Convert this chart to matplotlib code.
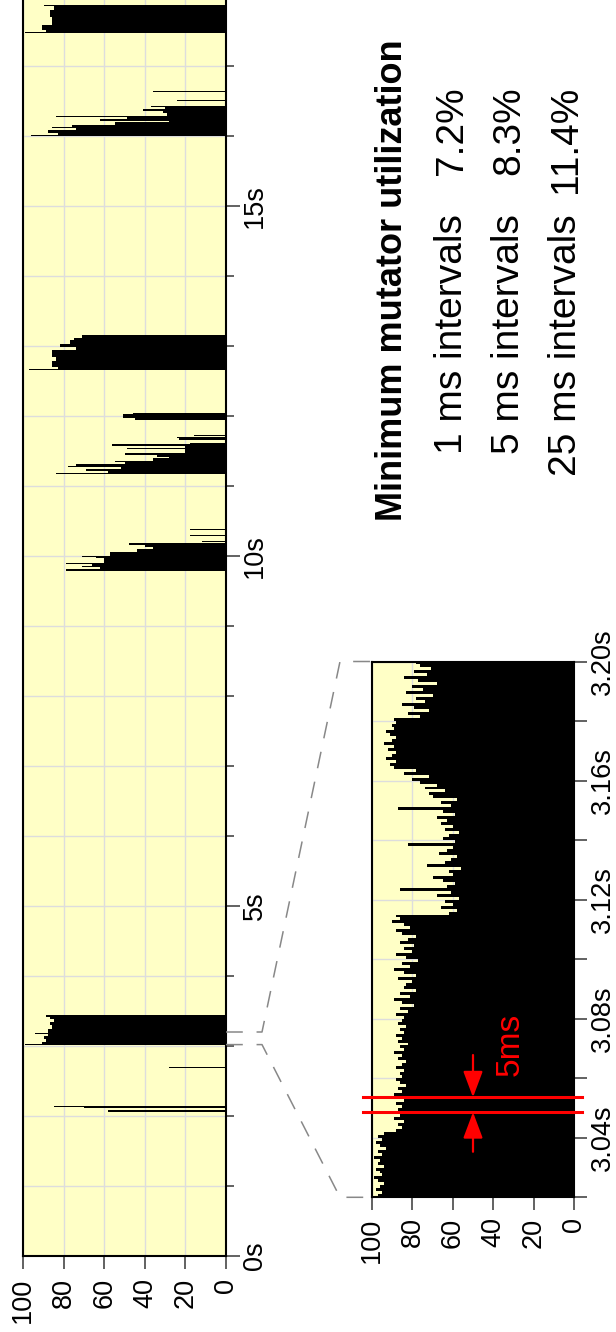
import numpy as np
import matplotlib
matplotlib.use("Agg")
import matplotlib.pyplot as plt
from matplotlib.lines import Line2D

plt.rcParams['font.family'] = ['Liberation Sans', 'DejaVu Sans']

# whole run: collector bursts as (start s, end s, mutator utilization %)
run_start = [2.060, 2.110, 2.125, 2.690,
             3.010, 3.025, 3.060, 3.100, 3.150, 3.170, 3.190, 3.240, 3.300, 3.340, 3.380, 3.420,
             9.790, 9.808, 9.840, 9.860, 9.885, 9.905, 9.970, 9.990, 10.005, 10.060, 10.100, 10.130,
             10.160, 10.195, 10.290, 10.365,
             11.170, 11.190, 11.215, 11.245, 11.270, 11.290, 11.310, 11.340, 11.360, 11.395, 11.410,
             11.440, 11.470, 11.530, 11.550, 11.575, 11.595, 11.660, 11.685, 11.720,
             11.950, 11.970, 12.030,
             12.655, 12.675, 12.700, 12.780, 12.850, 12.940, 12.990, 13.030, 13.080, 13.120,
             16.005, 16.020, 16.045, 16.080, 16.110, 16.135, 16.160, 16.200, 16.220, 16.245, 16.265,
             16.285, 16.330, 16.355, 16.385, 16.410, 16.495, 16.625,
             17.465, 17.485, 17.520, 17.590, 17.700, 17.800, 17.860]
run_end = [2.080, 2.125, 2.137, 2.703,
           3.025, 3.060, 3.100, 3.150, 3.170, 3.190, 3.240, 3.300, 3.340, 3.380, 3.420, 3.445,
           9.808, 9.840, 9.860, 9.885, 9.905, 9.970, 9.990, 10.005, 10.060, 10.100, 10.130, 10.160,
           10.180, 10.210, 10.305, 10.380,
           11.190, 11.215, 11.245, 11.270, 11.290, 11.310, 11.340, 11.360, 11.395, 11.410, 11.440,
           11.470, 11.530, 11.550, 11.575, 11.595, 11.620, 11.680, 11.700, 11.735,
           11.970, 12.030, 12.050,
           12.675, 12.700, 12.780, 12.850, 12.940, 12.990, 13.030, 13.080, 13.120, 13.158,
           16.020, 16.045, 16.080, 16.110, 16.135, 16.160, 16.200, 16.220, 16.245, 16.265, 16.285,
           16.330, 16.355, 16.385, 16.410, 16.435, 16.510, 16.640,
           17.485, 17.520, 17.590, 17.700, 17.800, 17.860, 17.875]
run_util = [58, 70, 85, 28,
            99, 91, 89, 90, 88, 94, 88, 86, 87, 85, 87, 89,
            79, 62, 71, 66, 79, 60, 64, 71, 57, 44, 36, 40,
            48, 12, 18, 18,
            84, 58, 69, 52, 78, 74, 50, 55, 36, 28, 34,
            50, 20, 49, 20, 56, 18, 23, 24, 16,
            45, 51, 46,
            97, 83, 86, 84, 86, 74, 82, 77, 75, 71,
            96, 83, 88, 74, 86, 76, 55, 28, 62, 49, 84,
            29, 31, 41, 30, 37, 24, 36,
            99, 89, 91, 86, 87, 85, 90]

# zoomed window, 1 ms steps from 3.020 s
zoom_start = 3.020
zoom_util = [97, 95, 98, 96, 94, 97, 99, 95, 96, 98, 94, 97, 96, 99, 95, 97, 93, 96, 98, 95, 97, 94,
             88, 85, 87, 84, 89, 86, 83, 87, 85, 88, 84, 86, 89, 85, 87, 83, 86, 88, 85,
             86, 84, 88, 85, 83, 87, 85, 89, 84, 86, 82, 87, 85, 88, 84, 86, 83, 87, 85, 84,
             88, 82, 86, 79, 85, 89, 81, 86, 78, 84,
             83, 80, 87, 78, 84, 89, 81, 85, 77, 83, 88, 80, 84, 79, 86, 82, 78, 85, 88, 81,
             84, 90, 86, 88,
             62, 58, 66, 60, 64, 57, 68, 61, 86, 63, 59, 65, 70, 60, 62, 56, 73, 64, 61, 58,
             67, 63, 60, 82, 59, 65, 62, 57, 64, 60, 66,
             63, 68, 59, 65, 87, 61, 66, 58, 70, 72, 64, 74, 68, 76,
             80, 72, 84, 78,
             89, 91, 88, 93, 90, 88, 92, 89, 94, 90, 88, 91, 93, 89, 90, 88, 89,
             76, 82, 72, 79, 85, 74, 78, 70, 83, 75, 80, 68, 77, 84, 73, 79, 71, 76, 78]
zoom_end = 3.200

util_ticks = [100, 80, 60, 40, 20, 0]
run_ticks = [0, 5, 10, 15]
run_tick_labels = ['0s', '5s', '10s', '15s']
zoom_ticks = [3.04, 3.08, 3.12, 3.16, 3.20]
zoom_tick_labels = ['3.04s', '3.08s', '3.12s', '3.16s', '3.20s']
zoom_minor = [3.02, 3.06, 3.10, 3.14, 3.18]
window_marks = [3.0486, 3.0536]

mmu_title = 'Minimum mutator utilization'
mmu_windows = ['1 ms intervals', '5 ms intervals', '25 ms intervals']
mmu_values = ['7.2%', '8.3%', '11.4%']

W, H = 616, 1332
fig = plt.figure(figsize=(W / 100, H / 100), dpi=100)
bg = '#ffffc6'
tickc = '#555555'
lab_size = 19.5


def px_axes(left, top, right, bottom):
    return fig.add_axes([left / W, 1 - bottom / H, (right - left) / W, (bottom - top) / H])


# ---- whole run
ax = px_axes(23.3, 1256 - 19 * 70, 226, 1256)
ax.set_facecolor(bg)
mid = [(a + b) / 2 for a, b in zip(run_start, run_end)]
dur = [b - a for a, b in zip(run_start, run_end)]
ax.barh(mid, run_util, height=dur, left=0, color='black', linewidth=0)
ax.set_xlim(100, 0)
ax.set_ylim(0, 19)
ax.set_xticks(util_ticks)
ax.set_xticklabels([str(v) for v in util_ticks])
ax.yaxis.tick_right()
ax.set_yticks(run_ticks)
ax.set_yticklabels(run_tick_labels)
ax.set_yticks(np.arange(0, 19), minor=True)
ax.tick_params(axis='x', length=9.5, width=1.3, color=tickc, labelsize=lab_size, labelrotation=90, pad=6.5)
ax.tick_params(axis='y', which='major', length=10, width=1.3, color=tickc, labelsize=lab_size,
               labelrotation=90, pad=1.5)
ax.tick_params(axis='y', which='minor', length=5.5, width=1.3, color=tickc)
plt.setp(ax.get_yticklabels(), va='center')
ax.grid(True, which='both', color='#dddddd', lw=1)
ax.set_axisbelow(True)
for s in ax.spines.values():
    s.set_linewidth(1.5)

# ---- zoomed window
ax2 = px_axes(372, 661.5, 574, 1197.3)
ax2.set_facecolor(bg)
edges = np.linspace(zoom_start, zoom_end, len(zoom_util) + 1)
ax2.stairs(zoom_util, edges, orientation='horizontal', fill=True, color='black', baseline=0)
ax2.set_xlim(100, 0)
ax2.set_ylim(zoom_start, zoom_end)
ax2.set_xticks(util_ticks)
ax2.set_xticklabels([str(v) for v in util_ticks])
ax2.yaxis.tick_right()
ax2.set_yticks(zoom_ticks)
ax2.set_yticklabels(zoom_tick_labels)
ax2.set_yticks(zoom_minor, minor=True)
ax2.tick_params(axis='x', length=9.5, width=1.3, color=tickc, labelsize=lab_size, labelrotation=90, pad=5)
ax2.tick_params(axis='y', which='both', length=9.5, width=1.3, color=tickc, labelsize=lab_size,
                labelrotation=90, pad=2)
plt.setp(ax2.get_yticklabels(), va='center')
ax2.grid(True, which='both', color='#dddddd', lw=1)
ax2.set_axisbelow(True)
for s in ax2.spines.values():
    s.set_linewidth(1.5)

# 5 ms window marker
for t in window_marks:
    ax2.plot([104.5, -4], [t, t], color='red', lw=2.2, clip_on=False, zorder=5)
arrow = dict(arrowstyle='-|>,head_length=0.8,head_width=0.3', color='red', lw=1.6,
             mutation_scale=20, shrinkA=0, shrinkB=0)
ax2.annotate('', xy=(50, window_marks[1]), xytext=(50, window_marks[1] + 0.0142), arrowprops=arrow)
ax2.annotate('', xy=(50, window_marks[0]), xytext=(50, window_marks[0] - 0.0133), arrowprops=arrow)
ax2.text(31.7, 3.0715, '5ms', rotation=90, ha='center', va='center', color='red', fontsize=24)

# dashed connectors between the two panels
inv = fig.transFigure.inverted()
for t in (zoom_start, zoom_end):
    x0, y0 = ax.transData.transform((0, t))
    x1, y1 = ax2.transData.transform((100, t))
    pts = inv.transform([(x0, y0), (x0 + 36, y0), (x1 - 32, y1), (x1, y1)])
    fig.add_artist(Line2D(pts[:, 0], pts[:, 1], transform=fig.transFigure, color='#888888',
                          lw=1.1, linestyle=(0, (11, 9))))

# summary table
fig.text(393 / W, 1 - 521 / H, mmu_title, rotation=90, ha='center', va='bottom',
         fontsize=26, fontweight='bold')
for i, (lab, val) in enumerate(zip(mmu_windows, mmu_values)):
    x = (452 + 57 * i) / W
    fig.text(x, 1 - 214 / H, lab, rotation=90, ha='center', va='top', fontsize=28)
    fig.text(x, 1 - 86 / H, val, rotation=90, ha='center', va='top', fontsize=28)

fig.savefig('out.png', dpi=100)
